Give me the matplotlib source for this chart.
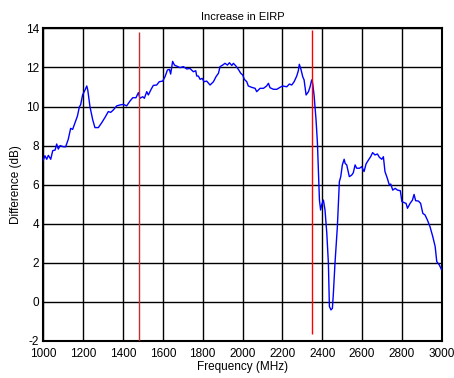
"""Recreates the "Increase in EIRP" frequency sweep chart."""

import matplotlib
matplotlib.use("Agg")
from matplotlib import pyplot as plt

# ------------------------------------------------------------------------------
# Data.
# ------------------------------------------------------------------------------

freq_mhz = [
    1000, 1008, 1017, 1025, 1037, 1047, 1059, 1067, 1075, 1084, 1100, 1112,
    1125, 1137, 1147, 1159, 1171, 1181, 1187, 1197, 1209, 1218, 1223, 1234,
    1248, 1259, 1276, 1293, 1310, 1326, 1338, 1351, 1368, 1385, 1402, 1418,
    1435, 1449, 1465, 1477, 1485, 1499, 1507, 1519, 1527, 1541, 1552, 1569,
    1582, 1599, 1611, 1623, 1633, 1639, 1649, 1658, 1669, 1686, 1703, 1720,
    1736, 1753, 1765, 1770, 1778, 1787, 1797, 1807, 1820, 1837, 1854, 1867,
    1879, 1887, 1900, 1912, 1924, 1934, 1946, 1954, 1967, 1979, 1991, 2001,
    2009, 2021, 2029, 2046, 2063, 2071, 2088, 2105, 2121, 2130, 2138, 2155,
    2172, 2188, 2201, 2222, 2235, 2247, 2259, 2272, 2280, 2285, 2294, 2302,
    2309, 2319, 2331, 2339, 2347, 2352, 2359, 2369, 2376, 2381, 2386, 2392,
    2397, 2406, 2414, 2423, 2431, 2436, 2444, 2451, 2456, 2464, 2476, 2486,
    2493, 2501, 2510, 2515, 2523, 2536, 2548, 2556, 2565, 2573, 2587, 2598,
    2610, 2620, 2632, 2643, 2653, 2665, 2677, 2687, 2699, 2707, 2715, 2727,
    2737, 2744, 2754, 2766, 2778, 2792, 2800, 2812, 2821, 2828, 2841, 2853,
    2861, 2869, 2883, 2894, 2905, 2916, 2928, 2941, 2955, 2967, 2975, 2988,
    2998,
]

difference_db = [
    7.26, 7.48, 7.30, 7.50, 7.30, 7.74, 7.77, 8.08, 7.82, 8.00, 7.94, 7.94,
    8.32, 8.88, 8.83, 9.17, 9.51, 9.99, 10.08, 10.59, 10.84, 11.05, 10.84, 9.99,
    9.31, 8.92, 8.92, 9.17, 9.45, 9.74, 9.70, 9.82, 10.03, 10.08, 10.11, 10.03,
    10.28, 10.45, 10.45, 10.71, 10.42, 10.50, 10.42, 10.76, 10.59, 10.88, 11.08, 11.10,
    11.27, 11.30, 11.53, 11.87, 11.90, 11.66, 12.31, 12.12, 12.07, 11.99, 12.04, 11.92,
    11.95, 11.78, 11.83, 11.56, 11.56, 11.39, 11.44, 11.27, 11.30, 11.10, 11.27, 11.53,
    11.70, 12.04, 12.12, 12.21, 12.12, 12.24, 12.10, 12.21, 12.07, 11.90, 11.70, 11.61,
    11.39, 11.27, 11.05, 10.98, 10.93, 10.76, 10.93, 10.93, 11.05, 11.19, 10.96, 10.88,
    10.88, 10.98, 11.05, 11.01, 11.15, 11.10, 11.27, 11.56, 11.83, 12.16, 11.87, 11.53,
    11.36, 10.59, 10.76, 11.01, 11.36, 11.19, 10.59, 9.31, 8.11, 6.58, 5.21, 4.70,
    4.96, 5.21, 4.70, 3.51, 1.97, -0.24, -0.41, -0.33, 0.44, 1.97, 3.85, 6.15,
    6.41, 7.01, 7.30, 7.09, 7.01, 6.41, 6.49, 6.61, 7.01, 6.84, 6.84, 6.92,
    6.67, 7.06, 7.26, 7.43, 7.64, 7.52, 7.57, 7.40, 7.30, 7.43, 6.67, 6.32,
    5.98, 6.03, 5.72, 5.81, 5.72, 5.69, 5.13, 5.08, 5.04, 4.79, 5.04, 5.21,
    5.50, 5.18, 5.16, 5.04, 4.53, 4.45, 4.19, 3.85, 3.34, 2.83, 2.06, 1.89,
    1.67,
]

# Band edge markers (frequency, bottom, top).
marker_freqs = [1480, 2350]
marker_bottoms = [-2.0, -1.65]
marker_tops = [13.8, 13.9]

x_ticks = [1000, 1200, 1400, 1600, 1800, 2000, 2200, 2400, 2600, 2800, 3000]
y_ticks = [-2, 0, 2, 4, 6, 8, 10, 12, 14]

# ------------------------------------------------------------------------------
# Plot.
# ------------------------------------------------------------------------------

plt.rcParams["font.family"] = ["Liberation Sans", "DejaVu Sans"]
plt.rcParams["axes.unicode_minus"] = False

fig = plt.figure(figsize=(4.54, 3.78), dpi=100)
ax = fig.add_axes([0.0955, 0.098, 0.8775, 0.827])

# Black solid grid, as in the original instrument plot.
ax.grid(True, color="black", linewidth=1.0)
ax.set_axisbelow(True)

ax.plot(freq_mhz, difference_db, color="#0000ff", linewidth=1.0, zorder=3)

ax.vlines(marker_freqs[0], marker_bottoms[0], marker_tops[0],
          color="#c03030", linewidth=1.0, zorder=4)
ax.vlines(marker_freqs[1], marker_bottoms[1], marker_tops[1],
          color="#ff0000", linewidth=1.0, zorder=4)

ax.set_xlim(1000, 3000)
ax.set_ylim(-2, 14)
ax.set_xticks(x_ticks)
ax.set_yticks(y_ticks)
ax.tick_params(axis="both", length=0, labelsize=8.5)
ax.tick_params(axis="x", pad=5)
ax.tick_params(axis="y", pad=3)

for spine in ax.spines.values():
    spine.set_linewidth(1.5)
    spine.set_color("black")

ax.set_title("Increase in EIRP", fontsize=8, pad=6)
ax.set_xlabel("Frequency (MHz)", fontsize=8.5, labelpad=1)
ax.set_ylabel("Difference (dB)", fontsize=8.5, labelpad=3)

plt.savefig("out.png", dpi=100)
